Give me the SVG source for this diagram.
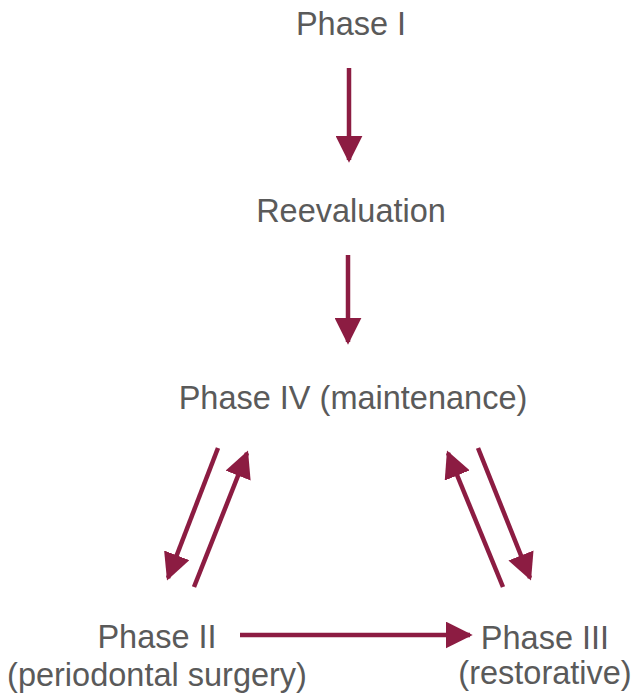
<svg xmlns="http://www.w3.org/2000/svg" width="635" height="698" viewBox="0 0 635 698">
<style>
text{font-family:"Liberation Sans",Arial,sans-serif;font-size:32.5px;fill:#5a5a5a;text-anchor:middle}
.c{stroke:#8c1c42;stroke-width:4.5;fill:none}
</style>
<defs>
<marker id="ah" viewBox="0 0 10 10" refX="9" refY="5" markerWidth="6" markerHeight="6" markerUnits="strokeWidth" orient="auto">
<path d="M0,0 L10,5 L0,10 z" fill="#8c1c42"/>
</marker>
</defs>
<rect width="635" height="698" fill="#fff"/>
<g id="n1"><text x="351" y="35">Phase I</text></g>
<g id="n2"><text x="351" y="222">Reevaluation</text></g>
<g id="n3"><text x="353" y="409">Phase IV (maintenance)</text></g>
<g id="n4"><text x="157" y="648">Phase II</text><text x="157" y="686">(periodontal surgery)</text></g>
<g id="n5"><text x="545" y="649">Phase III</text><text x="545" y="684">(restorative)</text></g>
<g id="connectors">
<line class="c" x1="349" y1="68" x2="349" y2="160" marker-end="url(#ah)"/>
<line class="c" x1="348" y1="255" x2="348" y2="342" marker-end="url(#ah)"/>
<line class="c" x1="218" y1="448" x2="168" y2="578" marker-end="url(#ah)"/>
<line class="c" x1="194" y1="587" x2="247" y2="453" marker-end="url(#ah)"/>
<line class="c" x1="503" y1="587" x2="448" y2="453" marker-end="url(#ah)"/>
<line class="c" x1="478" y1="448" x2="530" y2="578" marker-end="url(#ah)"/>
<line class="c" x1="240" y1="635" x2="470" y2="635" marker-end="url(#ah)"/>
</g>
</svg>
